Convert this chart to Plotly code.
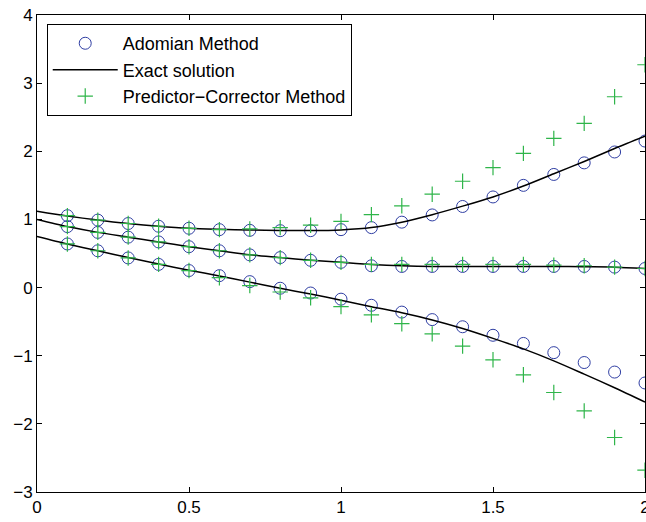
import plotly.graph_objects as go

# x positions of the markers
x_pts = [0.1, 0.2, 0.3, 0.4, 0.5, 0.6, 0.7, 0.8, 0.9, 1.0,
         1.1, 1.2, 1.3, 1.4, 1.5, 1.6, 1.7, 1.8, 1.9, 2.0]
# x positions for the exact solution curves
x_line = [0.0] + x_pts

# Exact solution (three curves)
exact_top = [1.12, 1.05, 0.99, 0.94, 0.90, 0.87, 0.855, 0.845, 0.838, 0.836, 0.846,
             0.88, 0.96, 1.07, 1.195, 1.33, 1.49, 1.67, 1.85, 2.04, 2.22]
exact_mid = [1.00, 0.895, 0.81, 0.74, 0.67, 0.60, 0.54, 0.48, 0.44, 0.40, 0.37,
             0.34, 0.32, 0.31, 0.31, 0.31, 0.31, 0.31, 0.305, 0.30, 0.28]
exact_low = [0.75, 0.64, 0.54, 0.44, 0.345, 0.255, 0.17, 0.08, -0.01, -0.095, -0.185,
             -0.28, -0.37, -0.475, -0.60, -0.745, -0.90, -1.075, -1.27, -1.47, -1.68]

# Adomian method
ado_top = [1.055, 0.99, 0.94, 0.90, 0.87, 0.85, 0.84, 0.835, 0.835, 0.85,
           0.88, 0.96, 1.066, 1.19, 1.33, 1.50, 1.66, 1.83, 1.99, 2.15]
ado_mid = [0.895, 0.81, 0.74, 0.67, 0.60, 0.54, 0.48, 0.44, 0.40, 0.37,
           0.32, 0.31, 0.31, 0.31, 0.31, 0.31, 0.31, 0.31, 0.30, 0.28]
ado_low = [0.64, 0.54, 0.435, 0.34, 0.25, 0.175, 0.087, -0.01, -0.08, -0.17,
           -0.26, -0.36, -0.47, -0.575, -0.70, -0.82, -0.955, -1.10, -1.24, -1.40]

# Predictor-Corrector method
pc_top = [1.055, 0.99, 0.94, 0.90, 0.87, 0.85, 0.86, 0.88, 0.915, 0.97,
          1.07, 1.20, 1.37, 1.56, 1.76, 1.97, 2.19, 2.41, 2.80, 3.27]
pc_mid = [0.895, 0.81, 0.74, 0.67, 0.60, 0.54, 0.48, 0.44, 0.40, 0.37,
          0.34, 0.34, 0.34, 0.34, 0.34, 0.34, 0.33, 0.32, 0.30, 0.28]
pc_low = [0.64, 0.54, 0.435, 0.34, 0.25, 0.145, 0.03, -0.065, -0.15, -0.28,
          -0.40, -0.53, -0.68, -0.86, -1.06, -1.28, -1.54, -1.81, -2.20, -2.68]

BLUE = "#2f3ea3"
GREEN = "#2fb54a"

fig = go.Figure()

for i, ys in enumerate([ado_top, ado_mid, ado_low]):
    fig.add_trace(go.Scatter(
        x=x_pts, y=ys, mode="markers", name="Adomian Method",
        showlegend=(i == 0),
        marker=dict(symbol="circle-open", size=12, color=BLUE, line=dict(width=1)),
    ))

for i, ys in enumerate([exact_top, exact_mid, exact_low]):
    fig.add_trace(go.Scatter(
        x=x_line, y=ys, mode="lines", name="Exact solution",
        showlegend=(i == 0),
        line=dict(color="black", width=1.5, shape="spline", smoothing=0.8),
    ))

for i, ys in enumerate([pc_top, pc_mid, pc_low]):
    fig.add_trace(go.Scatter(
        x=x_pts, y=ys, mode="markers", name="Predictor\u2212Corrector Method",
        showlegend=(i == 0),
        marker=dict(symbol="cross-thin-open", size=11, color=GREEN, line=dict(width=1.2, color=GREEN)),
    ))

axis_style = dict(
    showgrid=False, zeroline=False, showline=True, linecolor="black", linewidth=1,
    mirror="allticks", ticks="inside", ticklen=5, tickcolor="black",
    tickfont=dict(size=17, color="black"), automargin=False,
    ticklabeloverflow="allow",
)

fig.update_xaxes(range=[0, 2], tickvals=[0, 0.5, 1, 1.5, 2],
                 ticktext=["0", "0.5", "1", "1.5", "2"], **axis_style)
fig.update_yaxes(range=[-3, 4], tickvals=[-3, -2, -1, 0, 1, 2, 3, 4], **axis_style)

fig.update_layout(
    width=646, height=522,
    margin=dict(l=37, r=1, t=15, b=30),
    plot_bgcolor="white", paper_bgcolor="white",
    font=dict(family="Liberation Sans, Arial, sans-serif", size=18, color="black"),
    legend=dict(
        x=0.016, y=0.981, xanchor="left", yanchor="top",
        bgcolor="white", bordercolor="black", borderwidth=1,
        font=dict(size=18), tracegroupgap=0, itemwidth=65,
    ),
)

# drop the default page margin so the figure sits at the window's corner
fig.write_html("out.html", config={"displayModeBar": False},
               post_script="document.body.style.margin='0';")
